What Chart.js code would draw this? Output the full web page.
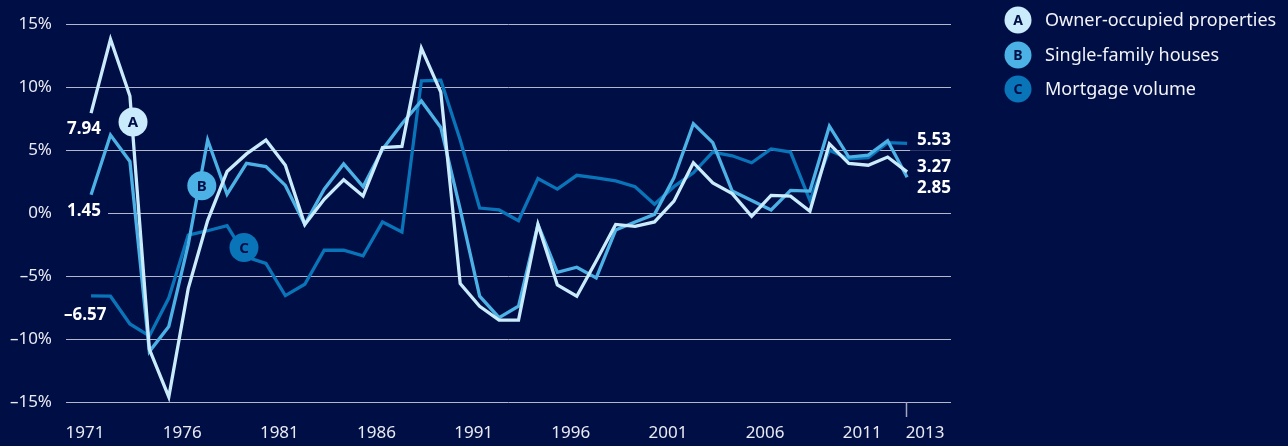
<!DOCTYPE html>
<html><head><meta charset="utf-8">
<script src="https://cdn.jsdelivr.net/npm/chart.js@4.4.1/dist/chart.umd.min.js"></script>
<style>html,body{margin:0;padding:0;background:#000e46;overflow:hidden}canvas{display:block}</style>
</head><body>
<canvas id="c" width="1288" height="446"></canvas>
<script>
const years = [1971,1972,1973,1974,1975,1976,1977,1978,1979,1980,1981,1982,1983,1984,1985,1986,1987,1988,1989,1990,1991,1992,1993,1994,1995,1996,1997,1998,1999,2000,2001,2002,2003,2004,2005,2006,2007,2008,2009,2010,2011,2012,2013];
const ownerOccupied = [7.94,13.8,9.3,-10.8,-14.6,-6.0,-0.6,3.3,4.7,5.8,3.8,-0.9,1.1,2.65,1.35,5.2,5.3,13.1,9.6,-5.6,-7.4,-8.5,-8.5,-0.9,-5.7,-6.6,-3.8,-0.9,-1.05,-0.7,0.95,4.0,2.4,1.55,-0.25,1.4,1.35,0.15,5.5,3.95,3.8,4.45,3.27];
const singleFamily = [1.45,6.2,4.1,-11.0,-9.0,-2.5,5.8,1.5,3.95,3.7,2.2,-0.9,1.9,3.9,2.1,5.05,7.1,8.9,6.8,0.3,-6.6,-8.3,-7.4,-0.9,-4.7,-4.3,-5.15,-1.35,-0.7,-0.1,2.8,7.1,5.6,1.75,1.0,0.25,1.8,1.75,6.9,4.45,4.6,5.75,2.85];
const mortgageVolume = [-6.57,-6.6,-8.8,-9.75,-6.75,-1.75,-1.4,-1.0,-3.5,-4.0,-6.55,-5.65,-2.95,-2.95,-3.4,-0.7,-1.5,10.5,10.55,5.8,0.4,0.25,-0.6,2.75,1.9,3.0,2.8,2.55,2.1,0.7,2.1,3.2,4.85,4.55,4.0,5.1,4.85,1.0,5.0,4.3,4.4,5.6,5.53];
const xTickYears = [1971,1976,1981,1986,1991,1996,2001,2006,2011,2013];
const yTickValues = [-15,-10,-5,0,5,10,15];
const seriesNames = ['Owner-occupied properties','Single-family houses','Mortgage volume'];
const seriesLetters = ['A','B','C'];
const startLabels = ['7.94','1.45','\u20136.57'];
const endLabels = ['3.27','2.85','5.53'];

const NAVY = '#000e46';
const COLORS = ['#c9ebfb','#4cb2e6','#0a74b8'];
const FONT = '"Noto Sans", "Open Sans", sans-serif';
const TXT = '#e9eaf2';

const seriesData = [ownerOccupied, singleFamily, mortgageVolume];

function labelSpecs(chart){
  const xs = chart.scales.x, ys = chart.scales.y;
  const left = chart.chartArea.left;
  const specs = [];
  const startDy = [15.5, 15, 18];
  const startDx = [1, 1, -2];
  const endDy = [-6, 10, -4.7];
  seriesData.forEach((arr,i)=>{
    specs.push({text:startLabels[i], x:left+startDx[i], y:ys.getPixelForValue(arr[0])+startDy[i]});
    specs.push({text:endLabels[i], x:xs.getPixelForValue(years[years.length-1])+10, y:ys.getPixelForValue(arr[arr.length-1])+endDy[i]});
  });
  return specs;
}

const deco = {
  id:'deco',
  beforeDatasetsDraw(chart){
    const ctx = chart.ctx;
    ctx.save();
    ctx.font = 'bold 17px ' + FONT;
    ctx.fillStyle = NAVY;
    labelSpecs(chart).forEach(s=>{
      const w = ctx.measureText(s.text).width;
      ctx.fillRect(s.x-7, s.y-12, w+14, 24);
    });
    ctx.restore();
  },
  afterDatasetsDraw(chart){
    const ctx = chart.ctx;
    const xs = chart.scales.x, ys = chart.scales.y;
    ctx.save();
    ctx.font = 'bold 17px ' + FONT;
    ctx.fillStyle = '#ffffff';
    ctx.textAlign = 'left';
    ctx.textBaseline = 'middle';
    labelSpecs(chart).forEach(s=>{ ctx.fillText(s.text, s.x, s.y+1); });
    const markers = [[1973.16,7.24],[1976.70,2.18],[1978.87,-2.73]];
    markers.forEach((m,i)=>{
      const x = xs.getPixelForValue(m[0]), y = ys.getPixelForValue(m[1]);
      ctx.beginPath(); ctx.arc(x,y,14.5,0,Math.PI*2); ctx.fillStyle = COLORS[i]; ctx.fill();
      ctx.fillStyle = NAVY; ctx.font = 'bold 15px ' + FONT; ctx.textAlign='center'; ctx.textBaseline='middle';
      ctx.fillText(seriesLetters[i], x, y+1);
    });
    ctx.font = '17px ' + FONT;
    ctx.fillStyle = TXT;
    ctx.textAlign = 'center';
    ctx.textBaseline = 'middle';
    xTickYears.forEach(yr=>{
      const off = yr === 2013 ? 18 : -6;
      ctx.fillText(String(yr), xs.getPixelForValue(yr)+off, 433);
    });
    const tx = Math.round(xs.getPixelForValue(2013)) - 0.5;
    ctx.strokeStyle = '#a4a7bf'; ctx.lineWidth = 1.5;
    ctx.beginPath(); ctx.moveTo(tx, chart.chartArea.bottom); ctx.lineTo(tx, 417); ctx.stroke();
    const ly = [20, 55, 89];
    seriesNames.forEach((n,i)=>{
      ctx.beginPath(); ctx.arc(1018, ly[i], 13.5, 0, Math.PI*2); ctx.fillStyle = COLORS[i]; ctx.fill();
      ctx.fillStyle = NAVY; ctx.font = 'bold 14px ' + FONT; ctx.textAlign='center'; ctx.textBaseline='middle';
      ctx.fillText(seriesLetters[i], 1018, ly[i]+1);
      ctx.fillStyle = '#f2f3f8'; ctx.font = '18px ' + FONT; ctx.textAlign='left';
      ctx.fillText(n, 1045, ly[i]+1);
    });
    ctx.restore();
  }
};

const bg = {
  id:'bg',
  beforeDraw(chart){
    const ctx = chart.ctx; ctx.save(); ctx.fillStyle = NAVY; ctx.fillRect(0,0,chart.width,chart.height); ctx.restore();
  }
};

const ds = seriesData.map((arr,i)=>({
  label: seriesNames[i],
  data: years.map((y,j)=>({x:y, y:arr[j]})),
  borderColor: COLORS[i],
  borderWidth: 3.3,
  pointRadius: 0,
  tension: 0,
  fill: false
}));

new Chart(document.getElementById('c'), {
  type:'line',
  data:{datasets:ds},
  options:{
    responsive:false,
    animation:false,
    devicePixelRatio:1,
    layout:{padding:{left:0,right:337,top:20,bottom:44}},
    plugins:{legend:{display:false},tooltip:{enabled:false}},
    scales:{
      x:{type:'linear', display:false, min:1969.71, max:2015.26},
      y:{
        min:-15, max:15,
        afterBuildTicks(s){ s.ticks = yTickValues.map(v=>({value:v})); },
        afterFit(s){ s.width = 66; },
        border:{display:false},
        grid:{color:'#b4b7cc', lineWidth:1, drawTicks:false},
        ticks:{
          padding:14,
          color:TXT,
          font:{family:FONT, size:17},
          callback:v=> (v<0 ? '\u2013'+Math.abs(v) : String(v)) + '%'
        }
      }
    }
  },
  plugins:[bg, deco]
});
</script>
</body></html>
